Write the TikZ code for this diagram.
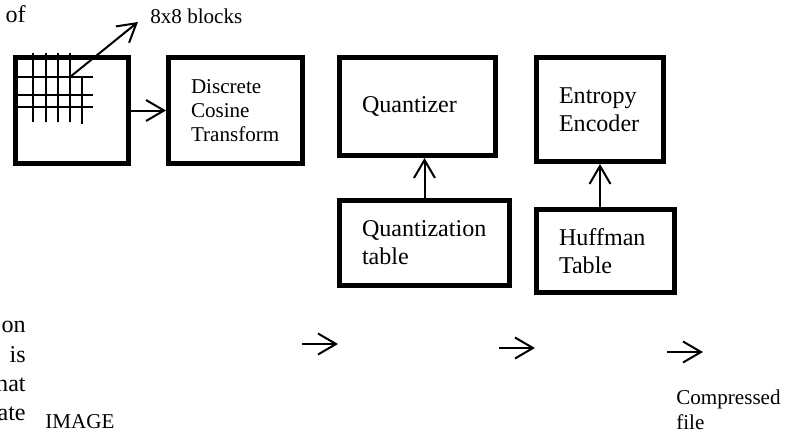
\documentclass[tikz,border=0pt]{standalone}
\usepackage{fontspec}
\setmainfont{Liberation Serif}
\usetikzlibrary{arrows.meta,positioning,calc}

\begin{document}
\begin{tikzpicture}[x=0.2mm,y=-0.2mm,>={Straight Barb[length=3.6mm,width=4.2mm]},
 blk/.style={draw,line width=1mm,inner sep=0pt,align=left,font=\fontsize{13.7}{16}\selectfont},
 lbl/.style={inner sep=0pt,font=\fontsize{12}{13.7}\selectfont},
 frag/.style={inner sep=0pt,anchor=base east,font=\fontsize{13.7}{16}\selectfont},
 ln/.style={line width=0.4mm}]
\useasboundingbox (0,0) rectangle (795,430);
% blocks
\node[blk,minimum width=22.6mm,minimum height=21.2mm] (img) at (72,110.5) {};
\node[blk,minimum width=26.8mm,minimum height=21.2mm,text width=17.8mm,font=\fontsize{12}{13.7}\selectfont] (dct) at (235.5,110.5) {Discrete\\Cosine\\Transform};
\node[blk,minimum width=31.2mm,minimum height=19.6mm,text width=22.2mm] (quant) at (417.5,106.5) {Quantizer};
\node[blk,minimum width=34mm,minimum height=17mm,text width=25mm] (qtab) at (424.5,243) {Quantization\\table};
\node[blk,minimum width=25.4mm,minimum height=20.8mm,text width=16.4mm] (ent) at (600,109.5) {Entropy\\Encoder};
\node[blk,minimum width=27.6mm,minimum height=16.6mm,text width=18.6mm] (huff) at (605.5,251) {Huffman\\Table};
% 8x8 grid inside the image
\foreach \gx in {33,46,58,70} \draw[ln] (\gx,53) -- (\gx,122);
\draw[ln] (82,77) -- (82,124);
\foreach \gy in {77,95,107} \draw[ln] (17,\gy) -- (93,\gy);
% texts
\node[lbl,anchor=base west] (blocks) at (150,23) {8x8 blocks};
\node[lbl,anchor=base west] (imgtxt) at (45,428) {IMAGE};
\node[lbl,anchor=north west,align=left] (cfile) at (676,390) {Compressed\\file};
\node[frag] (f1) at (26,22) {of};
\node[frag] (f2) at (26,332) {on};
\node[frag] (f3) at (26,362) {is};
\node[frag] (f4) at (26,391) {hat};
\node[frag] (f5) at (26,420) {ate};
% arrows
\coordinate (gc) at (70,77);
\coordinate (bt) at (138,22);
\draw[->,ln] (gc) -- (bt);
\draw[->,ln] (img) -- (dct);
\draw[->,ln] (qtab.north) -- (qtab.north |- quant.south);
\draw[->,ln] (ent.south |- huff.north) -- (ent.south);
\coordinate (a1) at (302,344); \coordinate (b1) at (338,344);
\coordinate (a2) at (499,348); \coordinate (b2) at (535,348);
\coordinate (a3) at (667,352); \coordinate (b3) at (703,352);
\draw[->,ln] (a1) -- (b1);
\draw[->,ln] (a2) -- (b2);
\draw[->,ln] (a3) -- (b3);
\end{tikzpicture}
\end{document}
